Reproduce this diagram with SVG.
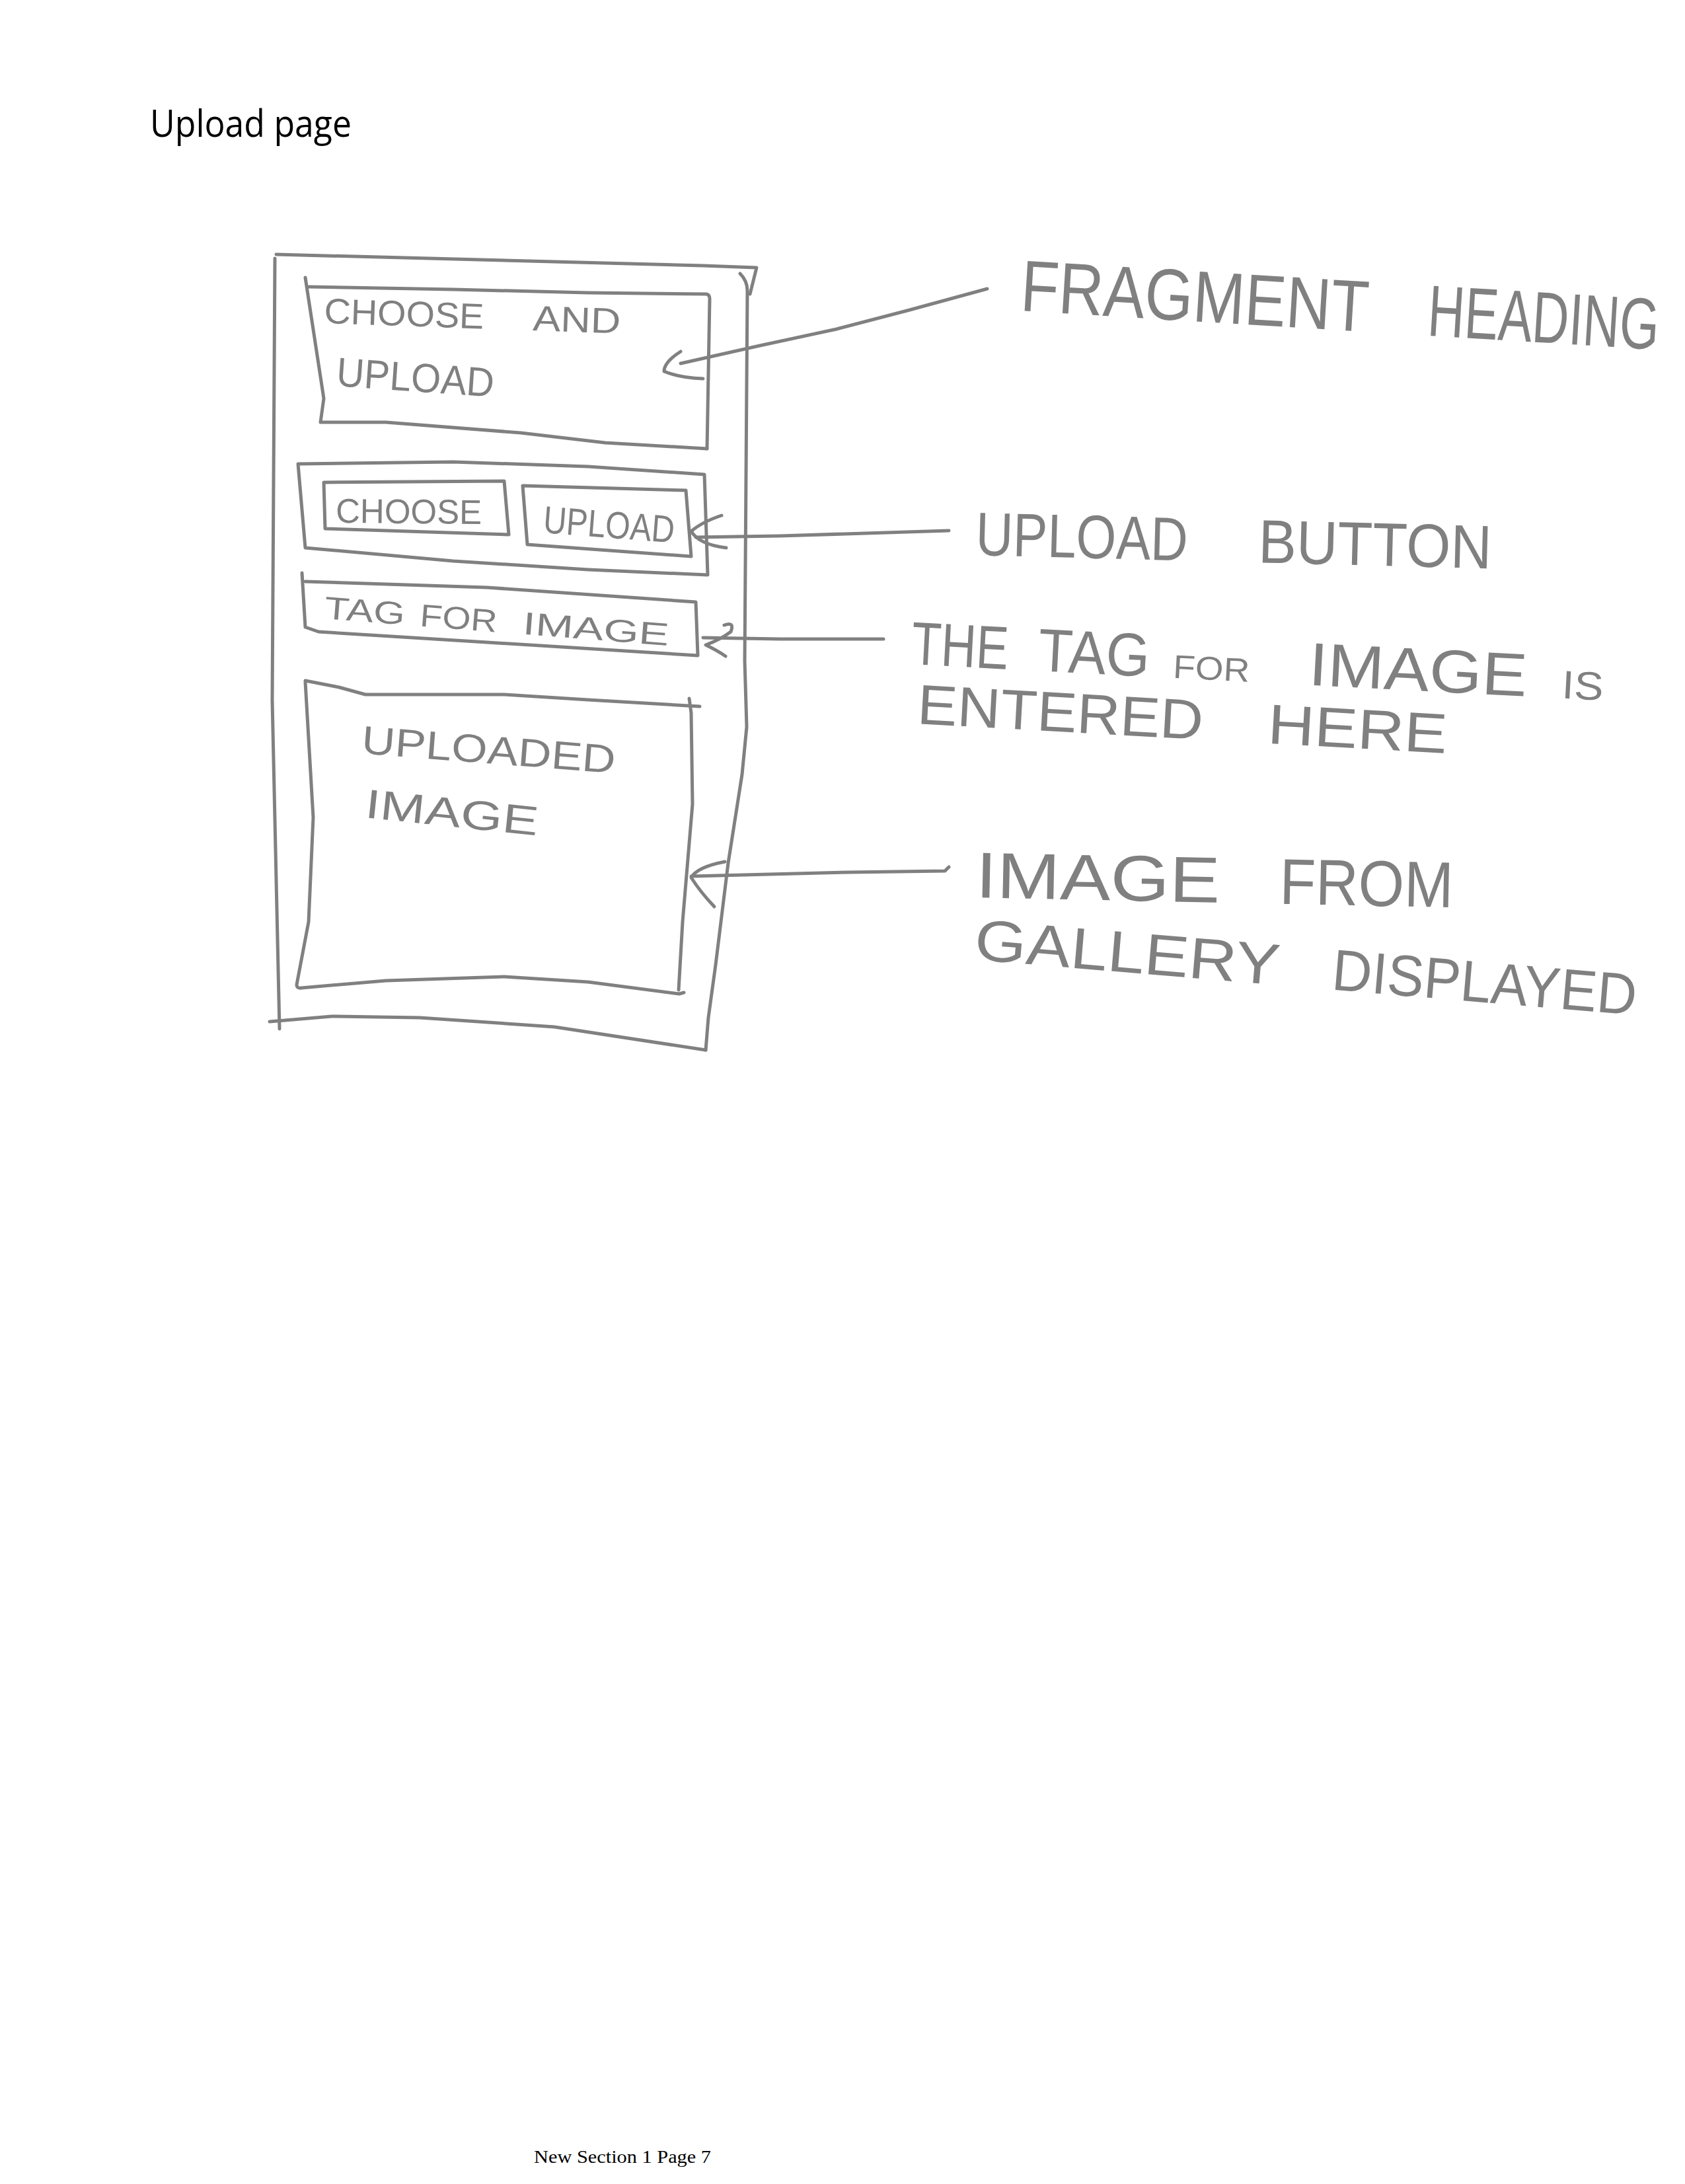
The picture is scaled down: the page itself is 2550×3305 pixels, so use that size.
<svg xmlns="http://www.w3.org/2000/svg" width="2550" height="3305" viewBox="0 0 2550 3305">
<style>
.s{fill:none;stroke:#808080;stroke-width:5;stroke-linecap:round;stroke-linejoin:round}
.h{font-family:"Liberation Sans",Arial,sans-serif;fill:#808080}
</style>
<rect width="2550" height="3305" fill="#ffffff"/>
<text x="227" y="207" font-family="Open Sans, sans-serif" font-size="56" fill="#000" textLength="305" lengthAdjust="spacingAndGlyphs">Upload page</text>

<g id="phone-frame">
<path class="s" d="M418,385 L1064,402 L1145,405 L1135,445"/>
<path class="s" d="M416,391 L412,1060 L423,1557"/>
<path class="s" d="M1120,414 Q1131,425 1131,440 L1127,1000 L1130,1100 L1123,1172 L1102,1306 L1083,1460 L1072,1540 L1068,1589"/>
<path class="s" d="M408,1546 L502,1538 L635,1540 L839,1554 L1068,1589"/>
</g>

<g id="heading-box">
<path class="s" d="M462,420 L490,603 L485,639 L584,639 L788,655 L916,670 L1070,679"/>
<path class="s" d="M467,434 L686,438 L890,443 L1069,445 Q1074,446 1074,452 L1070,679"/>
<text class="h" font-size="54" transform="rotate(2 490 489)"><tspan x="490" y="489" textLength="242" lengthAdjust="spacingAndGlyphs">CHOOSE</tspan><tspan x="806" y="489" textLength="133" lengthAdjust="spacingAndGlyphs">AND</tspan></text>
<text class="h" font-size="62" x="508" y="584" textLength="239" lengthAdjust="spacingAndGlyphs" transform="rotate(4 508 584)">UPLOAD</text>
</g>

<g id="button-row">
<path class="s" d="M451,702 L686,699 L890,706 L1066,718 L1071,870 L890,862 L686,849 L462,829 Z"/>
</g>

<g id="choose-button">
<path class="s" d="M490,730 L763,728 L770,809 L492,800 Z"/>
<text class="h" font-size="52" x="508" y="791" textLength="221" lengthAdjust="spacingAndGlyphs" transform="rotate(0.5 508 791)">CHOOSE</text>
</g>

<g id="upload-button">
<path class="s" d="M791,735 L1038,742 L1046,842 L798,824 Z"/>
<text class="h" font-size="58" x="821" y="806" textLength="199" lengthAdjust="spacingAndGlyphs" transform="rotate(4.5 821 806)">UPLOAD</text>
</g>

<g id="tag-box">
<path class="s" d="M462,880 L737,889 L1053,911 L1056,992 L737,972 L482,956 L462,949 L457,867"/>
<text class="h" font-size="48" transform="rotate(4.5 490 936)"><tspan x="490" y="936" textLength="122" lengthAdjust="spacingAndGlyphs">TAG</tspan><tspan x="635" y="936" textLength="117" lengthAdjust="spacingAndGlyphs">FOR</tspan><tspan x="791" y="936" textLength="222" lengthAdjust="spacingAndGlyphs">IMAGE</tspan></text>
</g>

<g id="image-box">
<path class="s" d="M462,1030 L513,1040 L553,1051 L763,1051 L890,1059 L1059,1069"/>
<path class="s" d="M1043,1057 L1046,1079 L1048,1217 L1033,1395 L1027,1498"/>
<path class="s" d="M462,1032 L474,1237 L467,1395 L449,1490 Q449,1496 456,1495 L584,1484 L763,1478 L890,1486 L1028,1504 L1035,1502"/>
<text class="h" font-size="60" x="546" y="1140" textLength="385" lengthAdjust="spacingAndGlyphs" transform="rotate(4.5 546 1140)">UPLOADED</text>
<text class="h" font-size="62" x="551" y="1237" textLength="263" lengthAdjust="spacingAndGlyphs" transform="rotate(6 551 1237)">IMAGE</text>
</g>

<g id="label-fragment-heading">
<text class="h" font-size="110" transform="translate(1543 470) rotate(3.5) scale(0.75 1)"><tspan x="0" y="0" textLength="703" lengthAdjust="spacingAndGlyphs">FRAGMENT</tspan><tspan x="823" y="0" textLength="467" lengthAdjust="spacingAndGlyphs">HEADING</tspan></text>
</g>

<g id="label-upload-button">
<text class="h" font-size="93" transform="rotate(1.5 1476 840)"><tspan x="1476" y="840" textLength="321" lengthAdjust="spacingAndGlyphs">UPLOAD</tspan><tspan x="1904" y="840" textLength="353" lengthAdjust="spacingAndGlyphs">BUTTON</tspan></text>
</g>

<g id="label-tag">
<text class="h" font-size="92" transform="rotate(3 1378 1005)"><tspan x="1378" y="1005" textLength="147" lengthAdjust="spacingAndGlyphs">THE</tspan><tspan x="1570" y="1005" textLength="169" lengthAdjust="spacingAndGlyphs">TAG</tspan><tspan x="1775" y="1005" font-size="50" textLength="116" lengthAdjust="spacingAndGlyphs">FOR</tspan><tspan x="1980" y="1005" textLength="331" lengthAdjust="spacingAndGlyphs">IMAGE</tspan><tspan x="2364" y="1005" font-size="60" textLength="63" lengthAdjust="spacingAndGlyphs">IS</tspan></text>
<text class="h" font-size="85" transform="rotate(3.2 1387 1095)"><tspan x="1387" y="1095" textLength="433" lengthAdjust="spacingAndGlyphs">ENTERED</tspan><tspan x="1918" y="1095" textLength="272" lengthAdjust="spacingAndGlyphs">HERE</tspan></text>
</g>

<g id="label-image">
<text class="h" font-size="98" transform="rotate(1.2 1476 1358)"><tspan x="1476" y="1358" textLength="370" lengthAdjust="spacingAndGlyphs">IMAGE</tspan><tspan x="1936" y="1358" textLength="263" lengthAdjust="spacingAndGlyphs">FROM</tspan></text>
<text class="h" font-size="88" transform="rotate(4.8 1473 1452)"><tspan x="1473" y="1452" textLength="463" lengthAdjust="spacingAndGlyphs">GALLERY</tspan><tspan x="2016" y="1452" textLength="462" lengthAdjust="spacingAndGlyphs">DISPLAYED</tspan></text>
</g>

<g id="connectors">
<path class="s" d="M1030,550 L1150,523 L1266,498 L1373,470 L1494,437"/>
<path class="s" d="M1030,532 Q1005,548 1005,562 Q1030,572 1064,573"/>
<path class="s" d="M1053,813 L1180,811 L1436,803"/>
<path class="s" d="M1092,780 Q1062,790 1046,804 Q1058,824 1099,829"/>
<path class="s" d="M1064,965 L1180,967 L1337,967"/>
<path class="s" d="M1096,946 Q1112,940 1106,956 Q1090,968 1068,976 Q1085,984 1098,993"/>
<path class="s" d="M1046,1326 L1284,1320 L1430,1318 L1436,1312"/>
<path class="s" d="M1097,1304 Q1055,1312 1046,1328 Q1060,1350 1081,1372"/>
</g>

<text x="808" y="3273" font-family="Liberation Serif, serif" font-size="27" fill="#000" textLength="268" lengthAdjust="spacingAndGlyphs">New Section 1 Page 7</text>
</svg>
